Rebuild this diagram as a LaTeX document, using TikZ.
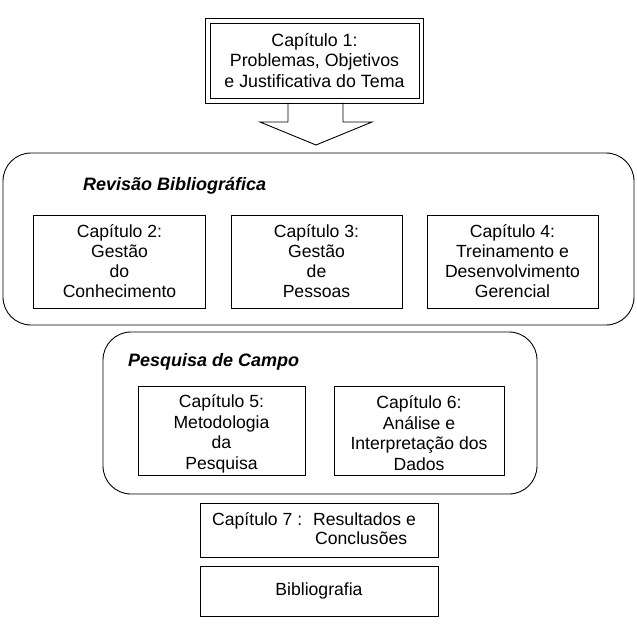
\documentclass[tikz,border=0pt]{standalone}
\usepackage{fontspec}
\setmainfont{Liberation Sans}
\begin{document}
\begin{tikzpicture}[x=1pt,y=1pt,
  box/.style={draw, line width=0.9pt, rectangle, align=center, inner sep=0pt,
    font=\fontsize{17.6}{20}\selectfont},
  group/.style={draw, line width=0.9pt, rounded corners=28pt, inner sep=0pt},
  grouplabel/.style={anchor=west, inner sep=0pt, font=\fontsize{18}{20}\selectfont\bfseries\itshape}]
\useasboundingbox (0,0) rectangle (637,-637);
% Chapter 1
\node[box, minimum width=209pt, minimum height=75pt, font=\fontsize{17.8}{20.5}\selectfont] (c1) at (314.5,-60.5)
  {Capítulo 1:\\Problemas, Objetivos\\e Justificativa do Tema};
\draw[line width=0.9pt] ([shift={(-4pt,4.5pt)}]c1.north west) rectangle ([shift={(4pt,-4.5pt)}]c1.south east);
% block arrow
\coordinate (a0) at (288,-102.5);
\draw[line width=0.9pt] (a0) -- (288,-122) -- (260,-122) -- (316,-145) -- (372,-122) -- (343,-122) -- (343,-102.5);
% Revisao group
\node[group, minimum width=631pt, minimum height=172pt] (rev) at (318.5,-239) {};
\node[grouplabel] (revl) at (83,-186) {Revisão Bibliográfica};
\node[box, minimum width=172pt, minimum height=93pt] (c2) at (119.5,-261.5) {Capítulo 2:\\Gestão\\do\\Conhecimento};
\node[box, minimum width=171pt, minimum height=93pt] (c3) at (316.5,-261.5) {Capítulo 3:\\Gestão\\de\\Pessoas};
\node[box, minimum width=171pt, minimum height=93pt] (c4) at (512.5,-261.5) {Capítulo 4:\\Treinamento e\\Desenvolvimento\\Gerencial};
% Pesquisa group
\node[group, minimum width=434pt, minimum height=162pt] (pes) at (320,-413) {};
\node[grouplabel] (pesl) at (128,-362) {Pesquisa de Campo};
\node[box, minimum width=167pt, minimum height=89pt] (c5) at (221.5,-430.5) {};
\node[align=center, inner sep=0pt, font=\fontsize{17.6}{20.5}\selectfont] (c5t) at (221.5,-434) {Capítulo 5:\\Metodologia\\da\\Pesquisa};
\node[box, minimum width=170pt, minimum height=89pt] (c6) at (419,-430.5) {};
\node[align=center, inner sep=0pt, font=\fontsize{17.6}{20.5}\selectfont] (c6t) at (419,-433) {Capítulo 6:\\Análise e\\Interpretação dos\\Dados};
% Chapter 7
\node[box, minimum width=238pt, minimum height=54pt] (c7) at (319,-530) {};
\node[anchor=west, inner sep=0pt, font=\fontsize{17.6}{20}\selectfont] (c7t) at (212,-531)
  {\begin{tabular}{@{}l@{\hspace{11pt}}l@{}}Capítulo 7 : & Resultados e\\[-1pt] & \hspace{2pt}Conclusões\end{tabular}};
% Bibliografia
\node[box, minimum width=238pt, minimum height=50pt] (bib) at (319,-591) {Bibliografia};
\end{tikzpicture}
\end{document}
